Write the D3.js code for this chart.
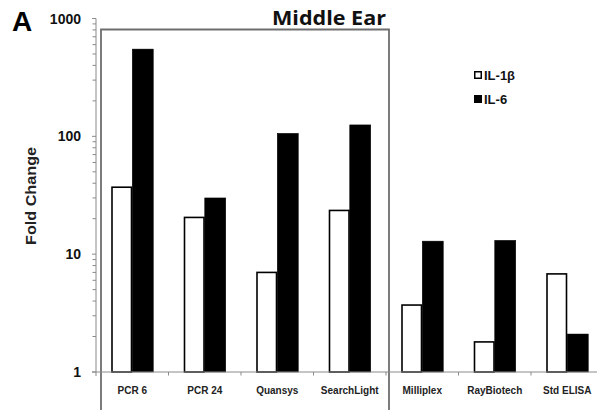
<!DOCTYPE html>
<html>
<head>
<meta charset="utf-8">
<script src="https://cdn.jsdelivr.net/npm/d3@7"></script>
<style>
  html, body { margin: 0; padding: 0; background: #fff; }
  svg { display: block; }
</style>
</head>
<body>
<svg id="chart" width="597" height="410"></svg>
<script>
// Assays compared, IL-1β (open bars) and IL-6 (filled bars) fold change
const categories = ["PCR 6", "PCR 24", "Quansys", "SearchLight", "Milliplex", "RayBiotech", "Std ELISA"];
const series = ["IL-1β", "IL-6"];
const il1bValues = [37, 20.5, 7.0, 23.5, 3.7, 1.8, 6.8];
const il6Values = [550, 30, 106, 125, 12.9, 13.1, 2.1];
const yTicks = [1, 10, 100, 1000];
const boxedCategories = ["PCR 6", "SearchLight"]; // first and last inside the "Middle Ear" frame

const svg = d3.select("#chart");
const font = "Arial, 'Liberation Sans', sans-serif";

const x0 = d3.scaleBand().domain(categories).range([96, 603.5]).padding(0);
const barW = 21;
const x1 = d3.scaleBand().domain(series)
  .range([x0.bandwidth() / 2 - barW, x0.bandwidth() / 2 + barW]).padding(0);
const y = d3.scaleLog().domain([1, 1000]).range([372, 18.5]);

// Frame around the middle-ear assays
const bx0 = x0(boxedCategories[0]) + 5;
const bx1 = x0(boxedCategories[1]) + x0.bandwidth() + 3;
svg.append("path")
  .attr("d", `M${bx0},${415} V29.5 H${bx1} V415`)
  .attr("fill", "none").attr("stroke", "#6e6e6e").attr("stroke-width", 1.8);

// Bars
const rows = categories.map((c, i) => ({ cat: c, vals: [il1bValues[i], il6Values[i]] }));
const g = svg.append("g");
rows.forEach(r => {
  r.vals.forEach((v, j) => {
    const s = series[j];
    g.append("rect")
      .attr("x", x0(r.cat) + x1(s) + (j === 0 ? 0.75 : 0))
      .attr("width", x1.bandwidth() - (j === 0 ? 1.5 : 0))
      .attr("y", y(v))
      .attr("height", y(1) - y(v))
      .attr("fill", j === 0 ? "#fff" : "#000")
      .attr("stroke", "#000")
      .attr("stroke-width", j === 0 ? 1.6 : 0.5);
  });
});

// Y axis: log scale with minor ticks
const yAxisG = svg.append("g").attr("transform", "translate(96,0)");
const minor = [];
for (let d = 1; d < 1000; d *= 10) for (let k = 2; k <= 9; k++) minor.push(d * k);
yAxisG.append("line").attr("y1", y(1000)).attr("y2", y(1) + 4)
  .attr("stroke", "#8a8a8a").attr("stroke-width", 1);
yAxisG.selectAll(".minor").data(minor).join("line")
  .attr("x1", -3.5).attr("x2", 0)
  .attr("y1", d => y(d)).attr("y2", d => y(d))
  .attr("stroke", "#8a8a8a").attr("stroke-width", 1);
yAxisG.selectAll(".major").data(yTicks).join("line")
  .attr("x1", -4).attr("x2", 0)
  .attr("y1", d => y(d)).attr("y2", d => y(d))
  .attr("stroke", "#8a8a8a").attr("stroke-width", 1);
yAxisG.selectAll("text").data(yTicks).join("text")
  .attr("x", -15).attr("y", d => y(d)).attr("dy", "0.36em")
  .attr("text-anchor", "end")
  .attr("font-family", font).attr("font-weight", "bold").attr("font-size", 14)
  .attr("fill", "#111")
  .text(d => d);

// X axis baseline with category-boundary ticks
const xAxis = d3.axisBottom(x0).tickSize(0).tickFormat(d => d);
const xg = svg.append("g").attr("transform", `translate(0,${y(1)})`).call(xAxis);
xg.select(".domain").remove();
xg.selectAll("text")
  .attr("dy", 0).attr("y", 22)
  .attr("font-family", font).attr("font-weight", "bold").attr("font-size", 10)
  .attr("fill", "#222");
xg.selectAll(".tick line").remove();
svg.append("line").attr("x1", 92).attr("x2", 597)
  .attr("y1", y(1)).attr("y2", y(1))
  .attr("stroke", "#8a8a8a").attr("stroke-width", 1);
svg.append("g").selectAll("line").data(categories.slice(1)).join("line")
  .attr("x1", d => x0(d)).attr("x2", d => x0(d))
  .attr("y1", y(1)).attr("y2", y(1) + 3.5)
  .attr("stroke", "#8a8a8a").attr("stroke-width", 1);

// Axis title
svg.append("text")
  .attr("transform", "translate(36,196) rotate(-90)")
  .attr("text-anchor", "middle")
  .attr("font-family", font).attr("font-weight", "bold").attr("font-size", 15)
  .attr("textLength", 98).attr("lengthAdjust", "spacingAndGlyphs")
  .attr("fill", "#222")
  .text("Fold Change");

// Panel letter and title
svg.append("text").attr("x", 12).attr("y", 31)
  .attr("font-family", font).attr("font-weight", "bold").attr("font-size", 28)
  .attr("fill", "#000").text("A");
svg.append("text").attr("x", 329).attr("y", 25)
  .attr("text-anchor", "middle")
  .attr("font-family", "'Open Sans', sans-serif").attr("font-weight", "bold").attr("font-size", 20)
  .attr("textLength", 114).attr("lengthAdjust", "spacingAndGlyphs")
  .attr("fill", "#111").text("Middle Ear");

// Legend
const legend = svg.append("g").attr("transform", "translate(474,0)");
series.forEach((s, i) => {
  const cy = 75 + i * 24;
  legend.append("rect")
    .attr("x", 0.75).attr("y", cy - 3.25).attr("width", 6.5).attr("height", 6.5)
    .attr("fill", i === 0 ? "#fff" : "#000").attr("stroke", "#000").attr("stroke-width", 1.5);
  legend.append("text")
    .attr("x", 10).attr("y", cy).attr("dy", "0.36em")
    .attr("font-family", font).attr("font-weight", "bold").attr("font-size", 13)
    .attr("fill", "#111").text(s);
});
</script>
</body>
</html>
